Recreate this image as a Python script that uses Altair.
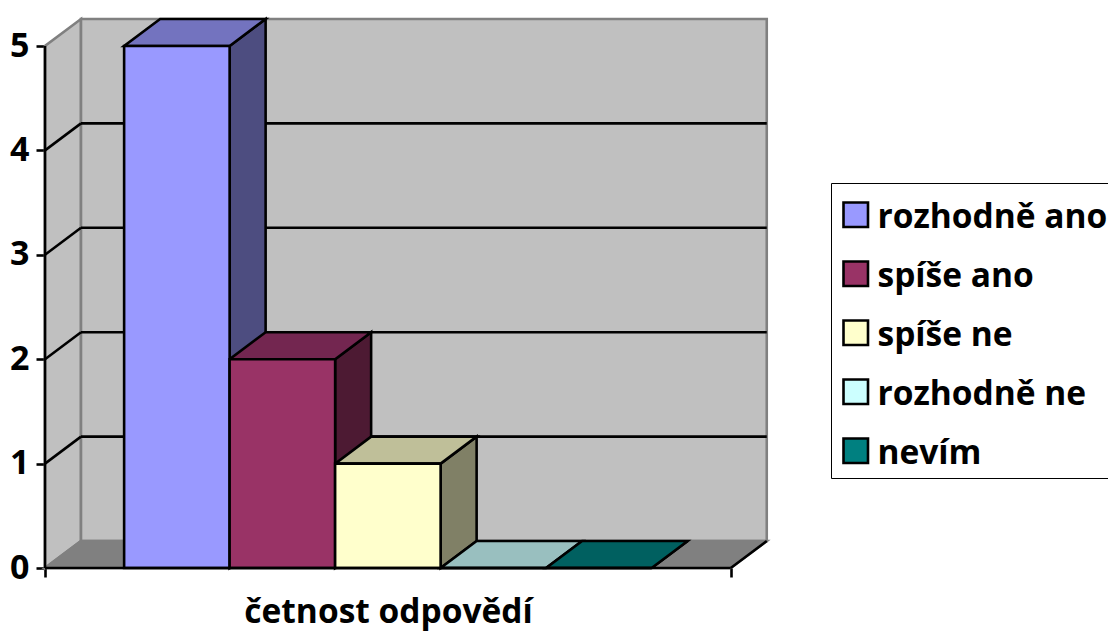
import altair as alt
import pandas as pd

# --- data
categories = ["rozhodně ano", "spíše ano", "spíše ne", "rozhodně ne", "nevím"]
values = [5, 2, 1, 0, 0]
front_colors = ["#9999FF", "#993366", "#FFFFCC", "#CCFFFF", "#008080"]
top_colors = ["#7373BF", "#732650", "#BFBF99", "#99BFBF", "#006060"]
side_colors = ["#4D4D80", "#4D1A33", "#808066", "#668080", "#004040"]
y_ticks = [0, 1, 2, 3, 4, 5]
axis_title = "četnost odpovědí"

# --- layout of the 3-D box, in axis units
PX_X, PX_Y = 105.5, 104.4
W, H = 724, 550
XMAX, YMAX = W / PX_X, H / PX_Y
DX, DY = 36 / PX_X, 27 / PX_Y      # depth of the box
GAP = 0.75                          # space before first bar
FLOOR = 6.5                         # length of the category axis
FONT = "Open Sans"
LW = 2.6

xs = alt.Scale(domain=[0, XMAX], nice=False, zero=False)
ys = alt.Scale(domain=[0, YMAX], nice=False, zero=False)
X = lambda f="x": alt.X(f"{f}:Q", scale=xs, axis=None)
Y = lambda f="y": alt.Y(f"{f}:Q", scale=ys, axis=None, stack=None)

# walls and floor
left_wall = pd.DataFrame({"x": [0, DX], "y": [0, DY], "y2": [5, 5 + DY]})
back_wall = pd.DataFrame({"x": [DX], "x2": [FLOOR + DX], "y": [DY], "y2": [5 + DY]})
floor = pd.DataFrame({"y": [0, DY], "x": [0, DX], "x2": [FLOOR, FLOOR + DX]})

wall_l = alt.Chart(left_wall).mark_area(color="#C0C0C0", stroke="#808080", strokeWidth=LW).encode(
    x=X(), y=Y(), y2="y2:Q")
wall_b = alt.Chart(back_wall).mark_rect(color="#C0C0C0", stroke="#808080", strokeWidth=LW).encode(
    x=X(), x2="x2:Q", y=Y(), y2="y2:Q")
wall_f = alt.Chart(floor).mark_area(orient="horizontal", color="#808080", stroke="#808080", strokeWidth=LW).encode(
    y=Y(), x=alt.X("x:Q", scale=xs, axis=None, stack=None), x2="x2:Q")

# gridlines
grid_vals = y_ticks[1:-1]
grid_back = alt.Chart(pd.DataFrame({"v": [v + DY for v in grid_vals], "x": DX, "x2": FLOOR + DX})).mark_rule(
    color="black", strokeWidth=LW).encode(x=X(), x2="x2:Q", y=Y("v"))
grid_side = alt.Chart(pd.DataFrame({"y": grid_vals, "y2": [v + DY for v in grid_vals], "x": 0, "x2": DX})).mark_rule(
    color="black", strokeWidth=LW).encode(x=X(), x2="x2:Q", y=Y(), y2="y2:Q")
right_edge = alt.Chart(pd.DataFrame({"y": [0], "y2": [DY], "x": [FLOOR], "x2": [FLOOR + DX]})).mark_rule(
    color="black", strokeWidth=LW).encode(x=X(), x2="x2:Q", y=Y(), y2="y2:Q")

# bars
front, side, top = [], [], []
for i, (c, v) in enumerate(zip(categories, values)):
    x0, x1 = GAP + i, GAP + i + 1
    front.append({"cat": c, "x": x0, "x2": x1, "y": 0, "y2": v})
    side += [{"c": side_colors[i], "x": x1, "y": 0, "y2": v},
             {"c": side_colors[i], "x": x1 + DX, "y": DY, "y2": v + DY}]
    top += [{"c": top_colors[i], "y": v, "x": x0, "x2": x1},
            {"c": top_colors[i], "y": v + DY, "x": x0 + DX, "x2": x1 + DX}]

sides = alt.Chart(pd.DataFrame(side)).mark_area(stroke="black", strokeWidth=LW).encode(
    x=X(), y=Y(), y2="y2:Q", color=alt.Color("c:N", scale=None))
tops = alt.Chart(pd.DataFrame(top)).mark_area(orient="horizontal", stroke="black", strokeWidth=LW).encode(
    y=Y(), x=alt.X("x:Q", scale=xs, axis=None, stack=None), x2="x2:Q", color=alt.Color("c:N", scale=None))
fronts = alt.Chart(pd.DataFrame(front)).mark_rect(stroke="black", strokeWidth=LW).encode(
    x=X(), x2="x2:Q", y=Y(), y2="y2:Q",
    color=alt.Color("cat:N", scale=alt.Scale(domain=categories, range=front_colors),
                    sort=categories,
                    legend=alt.Legend(
                        title=" ", titleFontSize=1, titlePadding=10, orient="none",
                        legendX=786, legendY=165,
                        fillColor="white", strokeColor="black", padding=7,
                        symbolType="M-1,-1.25H1V0.75H-1Z", symbolSize=600, symbolStrokeColor="black",
                        symbolStrokeWidth=LW, symbolOpacity=1, symbolOffset=1,
                        labelFont=FONT, labelFontWeight="bold", labelFontSize=33.5,
                        labelColor="black", labelOffset=5, rowPadding=21, labelLimit=400)))

# axes
axes = alt.Chart(pd.DataFrame({"v": [0]})).mark_point(opacity=0).encode(
    x=alt.X("v:Q", scale=xs, axis=alt.Axis(
        values=[0, FLOOR], labels=False, domain=False, grid=False, title=axis_title,
        tickColor="black", tickWidth=LW, tickSize=9,
        titleFont=FONT, titleFontWeight="bold", titleFontSize=33.5, titleColor="black",
        titleX=343, titleY=54, titleAnchor="middle", titleBaseline="alphabetic")),
    y=alt.Y("v:Q", scale=ys, axis=alt.Axis(
        values=y_ticks, domain=False, grid=False, title=None,
        tickColor="black", tickWidth=LW, tickSize=9, labelPadding=7,
        labelFont=FONT, labelFontWeight="bold", labelFontSize=34, labelColor="black")))
axis_y = alt.Chart(pd.DataFrame({"y": [0], "y2": [5], "x": [0]})).mark_rule(
    color="black", strokeWidth=LW).encode(x=X(), y=Y(), y2="y2:Q")
axis_x = alt.Chart(pd.DataFrame({"y": [0], "x": [0], "x2": [FLOOR]})).mark_rule(
    color="black", strokeWidth=LW).encode(x=X(), x2="x2:Q", y=Y())

chart = alt.layer(
    wall_l, wall_b, wall_f, grid_back, grid_side, right_edge,
    sides, tops, fronts, axis_y, axis_x, axes
).resolve_scale(color="independent").resolve_axis(x="independent", y="independent").properties(
    width=W, height=H,
    autosize=alt.AutoSizeParams(type="none"),
    padding={"left": 37, "top": 10, "right": 339, "bottom": 63},
    background="white",
).configure_view(stroke=None)

chart.save("out.html", embed_options={"renderer": "svg", "actions": False})
